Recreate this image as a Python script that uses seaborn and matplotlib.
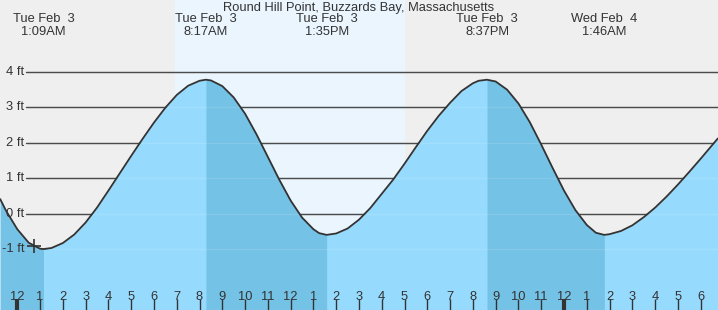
import matplotlib
matplotlib.use("Agg")
import matplotlib.pyplot as plt
import matplotlib.transforms as mtransforms
import pandas as pd
import seaborn as sns

# ---- data (hours since midnight Tue Feb 3, height in ft) ----
hours = [-0.75, -0.5, 0, 0.5, 1, 1.15, 1.5, 2, 2.5, 3, 3.5, 4, 4.5, 5, 5.5, 6, 6.5,
         7, 7.5, 8, 8.28, 8.5, 9, 9.5, 10, 10.5, 11, 11.5, 12, 12.5, 13, 13.25, 13.58,
         14, 14.5, 15, 15.5, 16, 16.5, 17, 17.5, 18, 18.5, 19, 19.5, 20, 20.25, 20.62,
         21, 21.5, 22, 22.5, 23, 23.5, 24, 24.5, 25, 25.4, 25.77,
         26, 26.5, 27, 27.5, 28, 28.5, 29, 29.5, 30, 30.25, 30.75]
heights = [0.41, 0.09, -0.44, -0.82, -0.99, -1.00, -0.97, -0.83, -0.59, -0.25, 0.17,
           0.65, 1.14, 1.63, 2.11, 2.57, 2.99, 3.35, 3.61, 3.75, 3.78, 3.76, 3.60, 3.28,
           2.82, 2.24, 1.60, 0.96, 0.37, -0.11, -0.44, -0.55, -0.60,
           -0.56, -0.42, -0.17, 0.16, 0.56, 0.96, 1.41, 1.88, 2.34, 2.76, 3.13, 3.46,
           3.68, 3.75, 3.78, 3.73, 3.50, 3.11, 2.58, 1.95, 1.29, 0.65, 0.10, -0.32,
           -0.54, -0.60, -0.58, -0.49, -0.33, -0.10, 0.17, 0.48, 0.82, 1.18, 1.55, 1.74,
           2.12]

extreme_hours = [1.15, 8.28, 13.58, 20.62, 25.77]
extreme_dates = ["Tue Feb  3", "Tue Feb  3", "Tue Feb  3", "Tue Feb  3", "Wed Feb  4"]
extreme_times = ["1:09AM", "8:17AM", "1:35PM", "8:37PM", "1:46AM"]

falling_spans = [(-0.76, 1.15), (8.28, 13.58), (20.62, 25.77)]
daylight = (6.93, 17.02)

y_levels = [4, 3, 2, 1, 0, -1]
y_labels = ["4 ft", "3 ft", "2 ft", "1 ft", "0 ft", "-1 ft"]

tick_hours = list(range(-1, 31))
tick_labels = [str((h % 12) or 12) for h in tick_hours]

now_hour = [0.75]
now_height = [-0.9]

title = "Round Hill Point, Buzzards Bay, Massachusetts"

# ---- styling ----
sns.set_theme(style="white")
plt.rcParams["font.family"] = ["Liberation Sans", "DejaVu Sans"]

W, H = 718, 310
fig = plt.figure(figsize=(W / 100, H / 100), dpi=100)
ax = fig.add_axes([0, 0, 1, 1])
ax.set_facecolor("#efefef")
for s in ax.spines.values():
    s.set_visible(False)

x0, x1 = -0.759, 30.76
ymin, ymax = -2.72, 6.03

df = pd.DataFrame({"hour": hours, "height": heights})

# daylight
ax.axvspan(daylight[0], daylight[1], color="#eaf5fe", zorder=0, lw=0)

# grid lines
for yv in y_levels:
    ax.axhline(yv, xmin=26 / W, xmax=1, color="#333333", lw=1.0, zorder=1)

# fills
ax.fill_between(df["hour"], df["height"], ymin - 1, color="#96dbfd", lw=0, zorder=2)
for a, b in falling_spans:
    sub = df[(df["hour"] >= a) & (df["hour"] <= b)]
    ax.fill_between(sub["hour"], sub["height"], ymin - 1, color="#74c2e6", lw=0, zorder=3)

# faint grid inside water
for yv in y_levels:
    ax.axhline(yv, xmin=26 / W, xmax=1, color="#ffffff", alpha=0.12, lw=1.0, zorder=4)

sns.lineplot(data=df, x="hour", y="height", ax=ax, color="#333333", lw=1.3,
             zorder=5, estimator=None, sort=True)
ax.plot(now_hour, now_height, marker="+", ms=10, mew=1.2, color="#333333", ls="none", zorder=6)

# y labels
tr_y = mtransforms.blended_transform_factory(ax.transAxes, ax.transData)
for yv, lab in zip(y_levels, y_labels):
    ax.text(24.5 / W, yv, lab, transform=tr_y, ha="right", va="center",
            fontsize=9.3, color="#333333", zorder=7)

# top labels
tr_x = mtransforms.blended_transform_factory(ax.transData, ax.transAxes)
for hx, d, t in zip(extreme_hours, extreme_dates, extreme_times):
    ax.text(hx, 1 - 13.5 / H, d + "\n" + t, transform=tr_x, ha="center", va="top",
            fontsize=9.3, color="#333333", linespacing=1.1, zorder=7)
ax.text(0.5, 1 - 1.5 / H, title, transform=ax.transAxes, ha="center", va="top",
        fontsize=9.3, color="#333333", zorder=7)

# x ticks
ax.set_xticks(tick_hours)
ax.set_xticklabels(tick_labels)
ax.set_yticks([])
ax.tick_params(axis="x", direction="in", length=8, width=1, color="#333333",
               pad=-14, labelsize=9.3, labelcolor="#333333", bottom=True)
for h, tk in zip(tick_hours, ax.xaxis.get_major_ticks()):
    if h % 24 == 0:
        tk.tick1line.set_markeredgewidth(3)
ax.xaxis.set_zorder(10)
ax.set_xlabel("")
ax.set_ylabel("")

ax.set_xlim(x0, x1)
ax.set_ylim(ymin, ymax)

fig.savefig("out.png", dpi=100)
